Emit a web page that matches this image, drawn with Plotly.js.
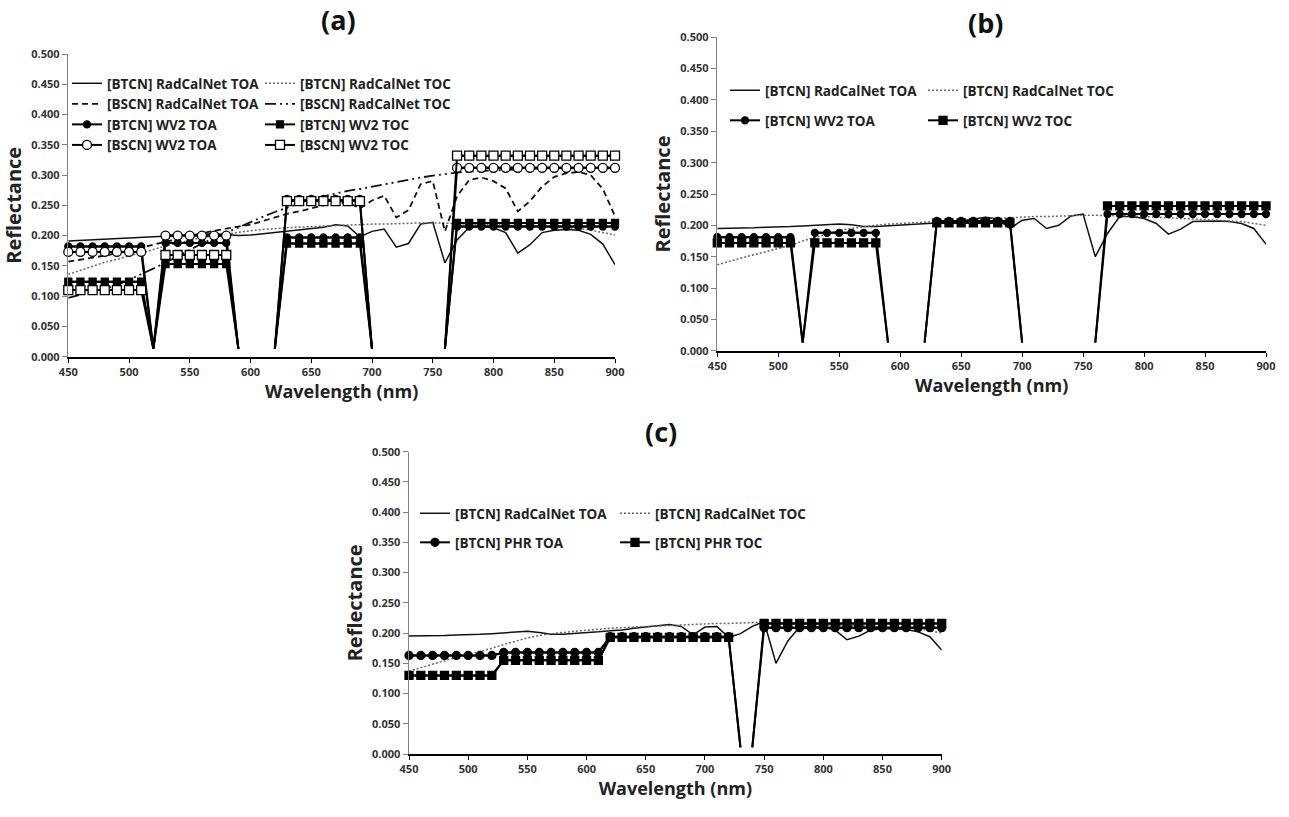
<!DOCTYPE html>
<html><head><meta charset="utf-8">
<script src="https://cdn.plot.ly/plotly-3.0.1.min.js"></script>
<style>html,body{margin:0;padding:0;background:#fff;}#chart{width:1289px;height:817px;}</style>
</head><body><div id="chart"></div>
<script>
// ---------------- DATA ----------------
const wavelength = [450,460,470,480,490,500,510,520,530,540,550,560,570,580,590,600,610,620,630,640,650,660,670,680,690,700,710,720,730,740,750,760,770,780,790,800,810,820,830,840,850,860,870,880,890,900];
const wavelengthPHR = [450,460,470,480,490,500,510,520,530,540,550,560,570,580,590,600,610,620,630,640,650,660,670,680,690,700,710,720,730,735,740,750,760,770,780,790,800,810,820,830,840,850,860,870,880,890,900];

// (a)
const a_btcn_rc_toa = [0.191,0.192,0.193,0.194,0.195,0.196,0.197,0.198,0.199,0.200,
  0.201,0.202,0.203,0.202,0.200,0.201,0.203,0.206,0.208,0.210,
  0.211,0.214,0.218,0.216,0.198,0.207,0.211,0.181,0.187,0.219,
  0.222,0.155,0.193,0.214,0.215,0.213,0.205,0.171,0.185,0.205,
  0.209,0.210,0.209,0.202,0.186,0.152];
const a_btcn_rc_toc = [0.136,0.143,0.150,0.156,0.161,0.166,0.171,0.177,0.183,0.188,
  0.193,0.197,0.200,0.203,0.206,0.208,0.210,0.212,0.213,0.214,
  0.215,0.216,0.217,0.218,0.218,0.219,0.219,0.220,0.220,0.221,
  0.221,0.221,0.220,0.219,0.219,0.218,0.217,0.217,0.216,0.215,
  0.214,0.213,0.212,0.209,0.205,0.201];
const a_bscn_rc_toa = [0.157,0.160,0.163,0.167,0.171,0.175,0.180,0.185,0.190,0.195,
  0.200,0.204,0.208,0.212,0.215,0.218,0.224,0.230,0.236,0.240,
  0.245,0.250,0.253,0.255,0.245,0.258,0.266,0.230,0.242,0.285,
  0.290,0.207,0.265,0.292,0.296,0.290,0.278,0.240,0.257,0.281,
  0.297,0.303,0.305,0.300,0.277,0.232];
const a_bscn_rc_toc = [0.097,0.102,0.107,0.112,0.118,0.127,0.136,0.145,0.155,0.166,
  0.177,0.187,0.196,0.205,0.213,0.222,0.231,0.239,0.246,0.254,
  0.260,0.265,0.270,0.274,0.277,0.281,0.284,0.288,0.292,0.296,
  0.299,0.302,0.304,0.306,0.307,0.308,0.309,0.310,0.310,0.311,
  0.311,0.312,0.312,0.312,0.312,0.311];
const a_btcn_wv2_toa = [0.182,0.182,0.182,0.182,0.182,0.182,0.182,0.013,0.188,0.188,
  0.188,0.188,0.188,0.188,0.013,null,null,0.013,0.197,0.197,
  0.197,0.197,0.197,0.197,0.197,0.013,null,null,null,null,
  null,0.013,0.215,0.215,0.215,0.215,0.215,0.215,0.215,0.215,
  0.215,0.215,0.215,0.215,0.215,0.215];
const a_btcn_wv2_toc = [0.124,0.124,0.124,0.124,0.124,0.124,0.124,0.013,0.153,0.153,
  0.153,0.153,0.153,0.153,0.013,null,null,0.013,0.187,0.187,
  0.187,0.187,0.187,0.187,0.187,0.013,null,null,null,null,
  null,0.013,0.221,0.221,0.221,0.221,0.221,0.221,0.221,0.221,
  0.221,0.221,0.221,0.221,0.221,0.221];
const a_bscn_wv2_toa = [0.173,0.173,0.173,0.173,0.173,0.173,0.173,0.013,0.200,0.200,
  0.200,0.200,0.200,0.200,0.013,null,null,0.013,0.259,0.259,
  0.259,0.259,0.259,0.259,0.259,0.013,null,null,null,null,
  null,0.013,0.312,0.312,0.312,0.312,0.312,0.312,0.312,0.312,
  0.312,0.312,0.312,0.312,0.312,0.312];
const a_bscn_wv2_toc = [0.110,0.110,0.110,0.110,0.110,0.110,0.110,0.013,0.168,0.168,
  0.168,0.168,0.168,0.168,0.013,null,null,0.013,0.257,0.257,
  0.257,0.257,0.257,0.257,0.257,0.013,null,null,null,null,
  null,0.013,0.332,0.332,0.332,0.332,0.332,0.332,0.332,0.332,
  0.332,0.332,0.332,0.332,0.332,0.332];

// (b)
const b_btcn_rc_toa = [0.195,0.195,0.196,0.196,0.197,0.197,0.198,0.199,0.200,0.201,
  0.202,0.201,0.198,0.198,0.199,0.200,0.201,0.203,0.204,0.205,
  0.207,0.210,0.213,0.210,0.195,0.208,0.211,0.195,0.200,0.215,
  0.218,0.150,0.187,0.214,0.214,0.211,0.203,0.186,0.194,0.206,
  0.207,0.207,0.206,0.203,0.195,0.170];
const b_btcn_rc_toc = [0.137,0.143,0.148,0.153,0.158,0.162,0.168,0.175,0.181,0.187,
  0.192,0.195,0.198,0.200,0.202,0.203,0.205,0.206,0.207,0.208,
  0.209,0.210,0.211,0.212,0.213,0.213,0.214,0.214,0.215,0.215,
  0.216,0.216,0.216,0.215,0.215,0.214,0.213,0.213,0.212,0.211,
  0.210,0.209,0.208,0.206,0.203,0.200];
const b_btcn_wv2_toa = [0.181,0.181,0.181,0.181,0.181,0.181,0.181,0.013,0.188,0.188,
  0.188,0.188,0.188,0.188,0.013,null,null,0.013,0.207,0.207,
  0.207,0.207,0.207,0.207,0.207,0.013,null,null,null,null,
  null,0.013,0.218,0.218,0.218,0.218,0.218,0.218,0.218,0.218,
  0.218,0.218,0.218,0.218,0.218,0.218];
const b_btcn_wv2_toc = [0.172,0.172,0.172,0.172,0.172,0.172,0.172,0.013,0.172,0.172,
  0.172,0.172,0.172,0.172,0.013,null,null,0.013,0.204,0.204,
  0.204,0.204,0.204,0.204,0.204,0.013,null,null,null,null,
  null,0.013,0.231,0.231,0.231,0.231,0.231,0.231,0.231,0.231,
  0.231,0.231,0.231,0.231,0.231,0.231];

// (c)
const c_btcn_rc_toa = [0.195,0.195,0.196,0.196,0.197,0.197,0.198,0.199,0.200,0.201,
  0.203,0.201,0.198,0.198,0.199,0.200,0.202,0.204,0.205,0.208,
  0.210,0.213,0.214,0.211,0.197,0.210,0.211,0.193,0.199,0.211,
  0.219,0.150,0.187,0.210,0.211,0.210,0.205,0.189,0.195,0.205,
  0.207,0.207,0.206,0.202,0.194,0.172];
const c_btcn_rc_toc = [0.137,0.143,0.149,0.155,0.160,0.164,0.169,0.175,0.181,0.187,
  0.192,0.196,0.199,0.201,0.203,0.205,0.207,0.208,0.209,0.210,
  0.211,0.212,0.213,0.214,0.215,0.215,0.216,0.216,0.217,0.217,
  0.218,0.217,0.216,0.215,0.214,0.214,0.213,0.213,0.212,0.212,
  0.211,0.210,0.209,0.207,0.204,0.200];
const c_btcn_phr_toa = [0.163,0.163,0.163,0.163,0.163,0.163,0.163,0.163,0.168,0.168,
  0.168,0.168,0.168,0.168,0.168,0.168,0.168,0.194,0.194,0.194,
  0.194,0.194,0.194,0.194,0.194,0.194,0.194,0.194,0.011,null,
  0.011,0.209,0.209,0.209,0.209,0.209,0.209,0.209,0.209,0.209,
  0.209,0.209,0.209,0.209,0.209,0.209,0.209];
const c_btcn_phr_toc = [0.130,0.130,0.130,0.130,0.130,0.130,0.130,0.130,0.155,0.155,
  0.155,0.155,0.155,0.155,0.155,0.155,0.155,0.193,0.193,0.193,
  0.193,0.193,0.193,0.193,0.193,0.193,0.193,0.193,0.011,null,
  0.011,0.216,0.216,0.216,0.216,0.216,0.216,0.216,0.216,0.216,
  0.216,0.216,0.216,0.216,0.216,0.216,0.216];

const yTicks = [0,0.05,0.1,0.15,0.2,0.25,0.3,0.35,0.4,0.45,0.5];
const xTicks = [450,500,550,600,650,700,750,800,850,900];

// ---------------- STYLE / BUILD ----------------
const FONT = 'Open Sans, Noto Sans, sans-serif';
const W = 1289, H = 817;
const traces = [];

function rc(x, y, xa, ya, name, dash, color, width, legend) {
  traces.push({type:'scatter', mode:'lines', x:x, y:y, xaxis:xa, yaxis:ya, name:name,
    legend:legend, legendgroup:legend+name, cliponaxis:false, hoverinfo:'skip',
    line:{color:color, width:width, dash:dash}});
}
function sat(x, y, xa, ya, name, symbol, fill, size, legend) {
  // full line including band-gap drops (no markers there)
  traces.push({type:'scatter', mode:'lines', x:x, y:y, xaxis:xa, yaxis:ya, name:name,
    legend:legend, legendgroup:legend+name, showlegend:false, cliponaxis:false, hoverinfo:'skip',
    line:{color:'#000', width:2}});
  // band values with markers
  const bandOnly = y.map(v => (v !== null && v > 0.05) ? v : null);
  traces.push({type:'scatter', mode:'lines+markers', x:x, y:bandOnly, xaxis:xa, yaxis:ya, name:name,
    legend:legend, legendgroup:legend+name, cliponaxis:false, hoverinfo:'skip',
    line:{color:'#000', width:2},
    marker:{symbol:symbol, size:size, color:fill, line:{color:'#000', width:1.3}}});
}

// (a)
rc(wavelength, a_btcn_rc_toa, 'x', 'y', '[BTCN] RadCalNet TOA', 'solid', '#111', 1.5, 'legend');
rc(wavelength, a_btcn_rc_toc, 'x', 'y', '[BTCN] RadCalNet TOC', '2px,2px', '#666', 1.5, 'legend2');
rc(wavelength, a_bscn_rc_toa, 'x', 'y', '[BSCN] RadCalNet TOA', '6px,4px', '#111', 1.8, 'legend');
rc(wavelength, a_bscn_rc_toc, 'x', 'y', '[BSCN] RadCalNet TOC', '11px,4px,2px,4px,2px,4px', '#111', 1.8, 'legend2');
sat(wavelength, a_btcn_wv2_toa, 'x', 'y', '[BTCN] WV2 TOA', 'circle', '#000', 7, 'legend');
sat(wavelength, a_btcn_wv2_toc, 'x', 'y', '[BTCN] WV2 TOC', 'square', '#000', 7, 'legend2');
sat(wavelength, a_bscn_wv2_toa, 'x', 'y', '[BSCN] WV2 TOA', 'circle', '#fff', 9, 'legend');
sat(wavelength, a_bscn_wv2_toc, 'x', 'y', '[BSCN] WV2 TOC', 'square', '#fff', 9, 'legend2');
// (b)
rc(wavelength, b_btcn_rc_toa, 'x2', 'y2', '[BTCN] RadCalNet TOA', 'solid', '#111', 1.5, 'legend3');
rc(wavelength, b_btcn_rc_toc, 'x2', 'y2', '[BTCN] RadCalNet TOC', '2px,2px', '#666', 1.5, 'legend4');
sat(wavelength, b_btcn_wv2_toa, 'x2', 'y2', '[BTCN] WV2 TOA', 'circle', '#000', 7, 'legend3');
sat(wavelength, b_btcn_wv2_toc, 'x2', 'y2', '[BTCN] WV2 TOC', 'square', '#000', 8, 'legend4');
// (c)
rc(wavelength, c_btcn_rc_toa, 'x3', 'y3', '[BTCN] RadCalNet TOA', 'solid', '#111', 1.5, 'legend5');
rc(wavelength, c_btcn_rc_toc, 'x3', 'y3', '[BTCN] RadCalNet TOC', '2px,2px', '#666', 1.5, 'legend6');
sat(wavelengthPHR, c_btcn_phr_toa, 'x3', 'y3', '[BTCN] PHR TOA', 'circle', '#000', 8, 'legend5');
sat(wavelengthPHR, c_btcn_phr_toc, 'x3', 'y3', '[BTCN] PHR TOC', 'square', '#000', 8, 'legend6');

function axX(px0, px1, anchor) {
  return {domain:[px0/W, px1/W], anchor:anchor, range:[450,900], tickvals:xTicks,
    showline:true, linecolor:'#000', linewidth:2, ticks:'outside', ticklen:4, tickcolor:'#000', tickwidth:1,
    showgrid:false, zeroline:false, fixedrange:true,
    tickfont:{family:FONT, size:11, color:'#333', weight:'bold'},
    title:{text:'Wavelength (nm)', font:{family:FONT, size:18, color:'#222', weight:'bold'}, standoff:2}};
}
function axY(py0, py1, anchor) {
  return {domain:[1-py1/H, 1-py0/H], anchor:anchor, range:[0,0.5], tickvals:yTicks, tickformat:'.3f',
    showline:true, linecolor:'#808080', linewidth:1.5, ticks:'outside', ticklen:5, tickcolor:'#808080', tickwidth:1,
    showgrid:false, zeroline:false, fixedrange:true,
    tickfont:{family:FONT, size:11, color:'#333', weight:'bold'},
    title:{text:'Reflectance', font:{family:FONT, size:20, color:'#222', weight:'bold'}, standoff:4}};
}
function leg(xpx, ytop, gap) {
  return {x:xpx/W, y:1-ytop/H, xanchor:'left', yanchor:'top', orientation:'v',
    bgcolor:'rgba(0,0,0,0)', borderwidth:0, itemwidth:30, tracegroupgap:gap,
    traceorder: gap > 0 ? 'grouped' : 'normal',
    font:{family:FONT, size:13.5, color:'#222', weight:'bold'}, itemclick:false, itemdoubleclick:false};
}
function title(txt, xpx, ypx) {
  return {text:txt, x:xpx/W, y:1-ypx/H, xref:'paper', yref:'paper', xanchor:'center', yanchor:'middle',
    showarrow:false, font:{family:FONT, size:27, color:'#111', weight:'bold'}};
}

const layout = {
  width:W, height:H, margin:{l:0,r:0,t:0,b:0},
  paper_bgcolor:'#fff', plot_bgcolor:'#fff', showlegend:true,
  font:{family:FONT, color:'#222'},
  xaxis: axX(68.3, 615, 'y'),    yaxis: axY(54, 356.7, 'x'),
  xaxis2: axX(717.3, 1266, 'y2'), yaxis2: axY(37.3, 350.7, 'x2'),
  xaxis3: axX(409, 941.7, 'y3'),  yaxis3: axY(451.7, 754, 'x3'),
  legend: leg(67, 68, 0), legend2: leg(260, 68, 0),
  legend3: leg(725, 75, 9.5), legend4: leg(923, 75, 9.5),
  legend5: leg(415, 498, 8.5), legend6: leg(615, 498, 8.5),
  annotations:[title('(a)', 338, 19), title('(b)', 986, 23), title('(c)', 661, 431)]
};

Plotly.newPlot('chart', traces, layout, {staticPlot:true, displayModeBar:false});
</script></body></html>
